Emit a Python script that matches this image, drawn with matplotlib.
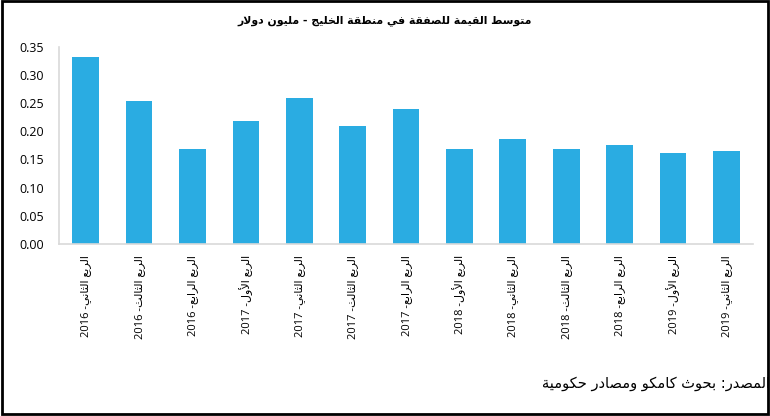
import matplotlib
matplotlib.use("Agg")
import matplotlib.pyplot as plt
from matplotlib.patches import Rectangle

# data
years = ["2016", "2016", "2016", "2017", "2017", "2017", "2017",
         "2018", "2018", "2018", "2018", "2019", "2019"]
quarters = ["الثاني", "الثالث", "الرابع", "الأول", "الثاني", "الثالث", "الرابع",
            "الأول", "الثاني", "الثالث", "الرابع", "الأول", "الثاني"]
values = [0.331, 0.253, 0.168, 0.218, 0.258, 0.209, 0.239,
          0.168, 0.186, 0.169, 0.175, 0.161, 0.164]
yticks = [0.00, 0.05, 0.10, 0.15, 0.20, 0.25, 0.30, 0.35]

title_text = "متوسط القيمة للصفقة في منطقة الخليج - مليون دولار"
source_text = "المصدر: بحوث كامكو ومصادر حكومية"

# minimal arabic shaping (matplotlib does not shape arabic)
# char: (isolated, final, initial, medial) ; right-joining letters have no initial/medial
FORMS = {
    "ا": (0xFE8D, 0xFE8E, None, None), "أ": (0xFE83, 0xFE84, None, None),
    "إ": (0xFE87, 0xFE88, None, None), "آ": (0xFE81, 0xFE82, None, None),
    "ب": (0xFE8F, 0xFE90, 0xFE91, 0xFE92), "ة": (0xFE93, 0xFE94, None, None),
    "ت": (0xFE95, 0xFE96, 0xFE97, 0xFE98), "ث": (0xFE99, 0xFE9A, 0xFE9B, 0xFE9C),
    "ج": (0xFE9D, 0xFE9E, 0xFE9F, 0xFEA0), "ح": (0xFEA1, 0xFEA2, 0xFEA3, 0xFEA4),
    "خ": (0xFEA5, 0xFEA6, 0xFEA7, 0xFEA8), "د": (0xFEA9, 0xFEAA, None, None),
    "ذ": (0xFEAB, 0xFEAC, None, None), "ر": (0xFEAD, 0xFEAE, None, None),
    "ز": (0xFEAF, 0xFEB0, None, None), "س": (0xFEB1, 0xFEB2, 0xFEB3, 0xFEB4),
    "ش": (0xFEB5, 0xFEB6, 0xFEB7, 0xFEB8), "ص": (0xFEB9, 0xFEBA, 0xFEBB, 0xFEBC),
    "ض": (0xFEBD, 0xFEBE, 0xFEBF, 0xFEC0), "ط": (0xFEC1, 0xFEC2, 0xFEC3, 0xFEC4),
    "ظ": (0xFEC5, 0xFEC6, 0xFEC7, 0xFEC8), "ع": (0xFEC9, 0xFECA, 0xFECB, 0xFECC),
    "غ": (0xFECD, 0xFECE, 0xFECF, 0xFED0), "ف": (0xFED1, 0xFED2, 0xFED3, 0xFED4),
    "ق": (0xFED5, 0xFED6, 0xFED7, 0xFED8), "ك": (0xFED9, 0xFEDA, 0xFEDB, 0xFEDC),
    "ل": (0xFEDD, 0xFEDE, 0xFEDF, 0xFEE0), "م": (0xFEE1, 0xFEE2, 0xFEE3, 0xFEE4),
    "ن": (0xFEE5, 0xFEE6, 0xFEE7, 0xFEE8), "ه": (0xFEE9, 0xFEEA, 0xFEEB, 0xFEEC),
    "و": (0xFEED, 0xFEEE, None, None), "ى": (0xFEEF, 0xFEF0, None, None),
    "ي": (0xFEF1, 0xFEF2, 0xFEF3, 0xFEF4),
    # lam-alef ligatures
    "لا": (0xFEFB, 0xFEFC, None, None), "لأ": (0xFEF7, 0xFEF8, None, None),
    "لإ": (0xFEF9, 0xFEFA, None, None), "لآ": (0xFEF5, 0xFEF6, None, None),
}


def shape(text):
    # joins letters and reverses the string for left-to-right drawing
    units = []
    i = 0
    while i < len(text):
        if text[i] == "ل" and i + 1 < len(text) and text[i:i + 2] in FORMS:
            units.append(text[i:i + 2])
            i += 2
        else:
            units.append(text[i])
            i += 1
    out = []
    for k, u in enumerate(units):
        if u not in FORMS:
            out.append(u)
            continue
        f = FORMS[u]
        prev = units[k - 1] if k > 0 else None
        nxt = units[k + 1] if k + 1 < len(units) else None
        jp = prev in FORMS and FORMS[prev][2] is not None
        jn = nxt in FORMS and f[2] is not None
        if jp and jn:
            c = f[3]
        elif jp:
            c = f[1]
        elif jn:
            c = f[2]
        else:
            c = f[0]
        out.append(chr(c))
    return "".join(reversed(out))


labels = [y + " -" + shape(q) + " " + shape("الربع") for y, q in zip(years, quarters)]
title = shape(title_text)
source = shape(source_text)

plt.rcParams["font.family"] = ["Open Sans", "DejaVu Sans"]

fig = plt.figure(figsize=(7.7, 4.16), dpi=100)
ax = fig.add_axes([0.0766, 0.4135, 0.9014, 0.4745])

x = list(range(len(values)))
ax.bar(x, values, width=0.5, color="#2AACE2")
ax.set_xlim(-0.5, len(values) - 0.5)
ax.set_ylim(0, 0.35)
ax.set_yticks(yticks)
ax.set_yticklabels(["%.2f" % v for v in yticks], fontsize=9)
ax.set_xticks(x)
ax.set_xticklabels(labels, rotation=90, fontsize=8, family=["Open Sans", "DejaVu Sans"])
ax.tick_params(axis="y", length=0, pad=11)
ax.tick_params(axis="x", length=0, pad=8)
for s in ["top", "right"]:
    ax.spines[s].set_visible(False)
for s in ["left", "bottom"]:
    ax.spines[s].set_color("#d9d9d9")
    ax.spines[s].set_linewidth(1.2)

fig.text(0.5, 0.95, title, ha="center", va="center", fontsize=7.8, fontweight="bold",
         family=["DejaVu Sans"])
fig.text(1.0, 0.079, source, ha="right", va="center", fontsize=10.5, family=["DejaVu Sans"])

fig.patches.append(Rectangle((0.002, 0.006), 0.9948, 0.9916, transform=fig.transFigure,
                             fill=False, edgecolor="black", linewidth=2))

fig.savefig("out.png", dpi=100)
